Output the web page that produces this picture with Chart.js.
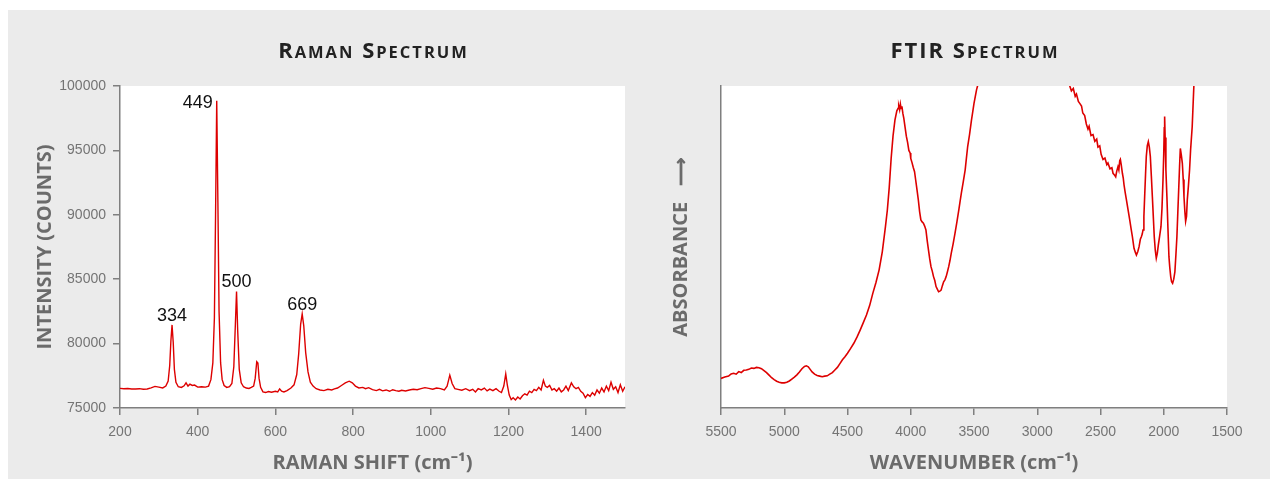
<!DOCTYPE html>
<html>
<head>
<meta charset="utf-8">
<script src="https://cdn.jsdelivr.net/npm/chart.js@4.4.0/dist/chart.umd.min.js"></script>
<style>
  html, body { margin: 0; padding: 0; background: #fff; }
  body { width: 1278px; height: 483px; position: relative; overflow: hidden; }
  #panel { position: absolute; left: 8px; top: 10px; width: 1262px; height: 469px; background: #ebebeb; }
  canvas { position: absolute; top: 0; }
  #ramanChart { left: 0; }
  #ftirChart { left: 640px; }
</style>
</head>
<body>
<div id="panel"></div>
<canvas id="ramanChart" width="640" height="483"></canvas>
<canvas id="ftirChart" width="638" height="483"></canvas>
<script>
// Raman spectrum (cm-1 vs counts)
const ramanShift = [200,210,220,230,240,250,260,270,280,290,300,310,318,324,328,331,334,337,340,344,350,358,365,370,375,380,386,392,400,410,420,428,434,439,443,446,449,452,455,459,463,468,475,482,488,493,497,500,503,507,512,518,525,532,538,544,548,552,555,558,562,568,575,582,590,600,606,611,616,622,630,640,648,655,660,665,669,673,678,684,690,697,705,715,725,735,745,752,760,770,780,790,798,806,815,825,832,840,850,860,868,876,885,894,902,910,918,925,935,945,955,965,975,985,995,1005,1015,1025,1035,1042,1049,1055,1062,1070,1080,1090,1100,1108,1115,1122,1130,1138,1145,1152,1160,1168,1176,1182,1188,1193,1197,1202,1207,1212,1218,1224,1230,1236,1242,1248,1254,1260,1266,1272,1278,1284,1290,1295,1300,1306,1312,1318,1324,1330,1336,1342,1348,1354,1362,1368,1374,1380,1386,1392,1398,1404,1410,1416,1422,1428,1434,1440,1446,1452,1458,1464,1470,1476,1482,1488,1494,1500];
const ramanIntensity = [76520,76500,76510,76480,76470,76500,76460,76480,76560,76680,76620,76560,76700,77100,78300,80200,81450,80100,78000,77000,76650,76600,76720,76950,76700,76850,76750,76780,76620,76650,76620,76700,77200,78500,82000,90000,98850,91000,82500,78500,77200,76750,76600,76650,76900,78200,81500,84050,81000,78000,76950,76650,76550,76520,76600,76700,77300,78600,78500,77300,76600,76250,76200,76280,76220,76300,76250,76480,76300,76250,76350,76550,76800,77600,79200,81500,82300,81400,79300,77800,77000,76700,76500,76400,76350,76450,76400,76480,76550,76750,76950,77080,76950,76700,76560,76600,76500,76580,76420,76350,76450,76330,76400,76300,76420,76350,76300,76380,76320,76400,76450,76420,76500,76580,76520,76460,76550,76500,76400,76700,77550,76900,76500,76450,76380,76500,76350,76450,76250,76500,76400,76550,76330,76470,76350,76500,76300,76200,76700,77650,76800,76000,75650,75800,75620,75850,75700,75950,76100,76000,76300,76200,76450,76350,76600,76400,77150,76700,76600,76750,76400,76500,76300,76550,76250,76400,76700,76350,76950,76650,76500,76600,76300,76150,75800,76050,75900,76200,76000,76400,76150,76550,76250,76700,76350,77000,76450,76650,76200,76800,76300,76650];
const ramanPeaks = [334, 449, 500, 669];
const ramanXTicks = [200, 400, 600, 800, 1000, 1200, 1400];
const ramanYTicks = [75000, 80000, 85000, 90000, 95000, 100000];

// FTIR spectrum (wavenumber vs absorbance, arbitrary units 0-100)
const ftirWavenumber = [5500,5470,5440,5420,5400,5380,5360,5340,5320,5300,5280,5260,5240,5220,5200,5180,5160,5140,5120,5100,5080,5060,5040,5020,5000,4980,4960,4940,4920,4900,4880,4860,4840,4825,4810,4795,4780,4760,4740,4720,4700,4680,4660,4640,4620,4600,4580,4560,4540,4520,4500,4475,4450,4425,4400,4375,4350,4325,4300,4275,4250,4225,4200,4185,4170,4155,4140,4125,4110,4100,4095,4088,4082,4076,4070,4062,4055,4045,4035,4025,4015,4005,4000,3990,3980,3970,3960,3950,3940,3930,3920,3910,3900,3890,3880,3870,3860,3850,3840,3830,3820,3810,3800,3790,3780,3770,3760,3750,3740,3730,3720,3710,3700,3690,3680,3665,3650,3635,3620,3610,3600,3585,3570,3560,3550,3535,3520,3510,3500,3490,3480,3470,3440,3400,3300,3200,3100,3000,2900,2820,2780,2755,2743,2730,2715,2700,2690,2675,2664,2650,2640,2625,2612,2599,2590,2575,2559,2545,2530,2520,2506,2495,2480,2465,2450,2441,2425,2410,2401,2390,2380,2372,2362,2355,2348,2343,2336,2327,2320,2314,2305,2295,2282,2269,2258,2248,2235,2225,2216,2205,2195,2185,2177,2170,2164,2157,2151,2144,2138,2130,2122,2114,2106,2098,2090,2082,2075,2067,2059,2051,2043,2032,2022,2014,2006,2000,1996,1993,1989,1983,1975,1967,1959,1952,1945,1938,1930,1921,1912,1904,1896,1889,1882,1875,1869,1861,1853,1846,1840,1833,1827,1820,1814,1805,1796,1788,1775,1762,1750];
const ftirAbsorbance = [9.2,9.6,9.9,10.6,10.8,10.5,11.3,11.0,11.7,11.8,12.0,12.4,12.3,12.6,12.5,12.2,11.6,11.0,10.2,9.4,8.8,8.3,8.0,7.8,7.8,8.0,8.4,9.0,9.6,10.3,11.2,12.2,12.9,13.1,12.8,12.0,11.2,10.5,10.1,9.9,9.7,9.9,10.0,10.5,11.0,11.8,12.6,13.8,15.0,15.9,17.0,18.5,20.1,22.0,24.2,26.5,28.9,31.8,35.6,39.0,42.9,48.5,56.3,61.5,68.5,77.5,84.5,89.4,92.3,93.1,93.8,92.6,94.4,93.0,93.7,91.4,90.0,87.2,84.4,82.5,80.0,79.2,77.5,76.2,74.7,73.4,70.5,67.6,64.6,61.0,58.4,57.8,57.4,56.5,55.3,52.0,49.1,46.3,43.9,42.5,40.8,39.6,37.7,36.9,36.1,36.3,36.6,38.0,39.2,39.8,40.8,42.3,43.9,45.8,48.0,51.0,54.3,57.8,61.5,64.2,66.7,70.2,73.9,77.6,81.2,85.0,89.4,92.0,94.6,96.7,98.8,100.3,104,109,118,124,128,129,124,114,106,101.5,100.0,98.5,99.2,96.8,97.5,95.2,94.6,93.8,91.6,90.8,88.2,86.6,87.5,84.6,84.9,82.8,83.5,81.0,81.4,78.8,77.2,77.6,75.6,76.1,74.3,74.6,72.9,72.4,71.8,73.5,74.9,73.9,76.8,77.2,75.5,72.9,71.4,69.3,67.0,64.6,61.5,58.4,55.6,53.2,49.6,48.4,47.5,48.6,50.1,52.4,53.2,54.0,55.3,59.5,65.6,72.5,78.1,81.5,82.7,81.0,78.1,72.0,65.6,59.0,53.2,49.0,46.5,48.0,50.6,53.5,56.3,62.0,70.8,79.0,87.0,90.5,84.0,74.0,65.6,56.0,47.0,43.5,40.8,39.2,38.7,40.0,42.3,47.5,53.2,60.5,67.7,75.0,80.6,78.5,76.0,71.0,65.6,61.0,58.0,59.5,64.6,69.0,73.9,80.0,87.4,100.0,112.0];
const ftirXTicks = [5500, 5000, 4500, 4000, 3500, 3000, 2500, 2000, 1500];

const lineRed = '#dd0000';
const axisGrey = '#7f7f7f';
const tickGrey = '#747474';
const titleGrey = '#6b6b6b';

const plotBackground = {
    id: 'plotBackground',
    beforeDraw(chart) {
        const { ctx, chartArea: a } = chart;
        ctx.save();
        ctx.fillStyle = '#fff';
        ctx.fillRect(a.left, a.top, a.right - a.left, a.bottom - a.top);
        ctx.restore();
    }
};

// small-caps heading centred over the plot area: capitals big, lower case as small capitals
const heading = {
    id: 'heading',
    afterDraw(chart, args, opts) {
        const { ctx, chartArea: a } = chart;
        const big = 22, small = 16.5, gap = 2;
        const glyphs = [...opts.text].map(ch => ({
            ch: ch.toUpperCase(),
            font: `700 ${ch === ch.toUpperCase() ? big : small}px "Open Sans"`
        }));
        ctx.save();
        let total = 0;
        glyphs.forEach(g => { ctx.font = g.font; g.w = ctx.measureText(g.ch).width; total += g.w + gap; });
        total -= gap;
        let x = (a.left + a.right) / 2 - total / 2;
        ctx.fillStyle = '#222';
        ctx.textAlign = 'left';
        ctx.textBaseline = 'alphabetic';
        glyphs.forEach(g => {
            ctx.font = g.font;
            ctx.fillText(g.ch, x, 58);
            x += g.w + gap;
        });
        ctx.restore();
    }
};

const peakLabels = {
    id: 'peakLabels',
    afterDatasetsDraw(chart) {
        const { ctx, scales } = chart;
        const top = Math.max(...ramanIntensity);
        ctx.save();
        ctx.font = '18px "Liberation Sans"';
        ctx.fillStyle = '#111';
        ramanPeaks.forEach(p => {
            const v = ramanIntensity[ramanShift.indexOf(p)];
            const x = scales.x.getPixelForValue(p);
            const y = scales.y.getPixelForValue(v);
            if (v === top) {
                ctx.textAlign = 'right';
                ctx.textBaseline = 'middle';
                ctx.fillText(String(p), x - 4, y + 2);
            } else {
                ctx.textAlign = 'center';
                ctx.textBaseline = 'alphabetic';
                ctx.fillText(String(p), x, y - 4);
            }
        });
        ctx.restore();
    }
};

function pairs(xs, ys) {
    return xs.map((x, i) => ({ x, y: ys[i] }));
}

function axisTitle(text, pad) {
    return { display: true, text, color: titleGrey, padding: pad,
             font: { family: '"Open Sans"', size: 20, weight: '700' } };
}

const tickFont = { family: 'Liberation Sans', size: 14 };
const axisBorder = { display: true, color: axisGrey, width: 1.5 };
const tickGrid = { drawOnChartArea: false, drawTicks: true, tickLength: 7, color: axisGrey, lineWidth: 1.5 };

new Chart(document.getElementById('ramanChart'), {
    type: 'line',
    data: { datasets: [{ data: pairs(ramanShift, ramanIntensity), borderColor: lineRed, borderWidth: 1.4, pointRadius: 0, tension: 0 }] },
    options: {
        responsive: false, animation: false, events: [],
        layout: { padding: { left: 0, right: 15, top: 86, bottom: 0 } },
        plugins: { legend: { display: false }, tooltip: { enabled: false }, heading: { text: 'Raman Spectrum' } },
        scales: {
            x: {
                type: 'linear', min: 200, max: 1500,
                afterBuildTicks: s => { s.ticks = ramanXTicks.map(value => ({ value })); },
                afterFit: s => { s.height = 75; },
                ticks: { font: tickFont, color: tickGrey, padding: 8.5, maxRotation: 0, callback: v => String(v) },
                grid: tickGrid, border: axisBorder,
                title: axisTitle('RAMAN SHIFT (cm\u207B\u00B9)', { top: 0, bottom: 8 })
            },
            y: {
                type: 'linear', min: 75000, max: 100000,
                afterBuildTicks: s => { s.ticks = ramanYTicks.map(value => ({ value })); },
                afterFit: s => { s.width = 120; },
                ticks: { font: tickFont, color: tickGrey, padding: 7, callback: v => String(v) },
                grid: tickGrid, border: axisBorder,
                title: axisTitle('INTENSITY (COUNTS)', { top: 33, bottom: 0 })
            }
        }
    },
    plugins: [plotBackground, peakLabels, heading]
});

new Chart(document.getElementById('ftirChart'), {
    type: 'line',
    data: { datasets: [{ data: pairs(ftirWavenumber, ftirAbsorbance), borderColor: lineRed, borderWidth: 1.6, pointRadius: 0, tension: 0 }] },
    options: {
        responsive: false, animation: false, events: [],
        layout: { padding: { left: 0, right: 51, top: 86, bottom: 0 } },
        plugins: { legend: { display: false }, tooltip: { enabled: false }, heading: { text: 'FTIR Spectrum' } },
        scales: {
            x: {
                type: 'linear', min: 1500, max: 5500, reverse: true,
                afterBuildTicks: s => { s.ticks = ftirXTicks.map(value => ({ value })); },
                afterFit: s => { s.height = 75; },
                ticks: { font: tickFont, color: tickGrey, padding: 8.5, maxRotation: 0, callback: v => String(v) },
                grid: tickGrid, border: axisBorder,
                title: axisTitle('WAVENUMBER (cm\u207B\u00B9)', { top: 0, bottom: 8 })
            },
            y: {
                type: 'linear', min: 0, max: 100,
                afterFit: s => { s.width = 81; },
                ticks: { display: false },
                grid: { display: false, drawOnChartArea: false, drawTicks: false }, border: axisBorder,
                title: axisTitle('ABSORBANCE   \u27F6', { top: 29, bottom: 0 })
            }
        }
    },
    plugins: [plotBackground, heading]
});
</script>
</body>
</html>
